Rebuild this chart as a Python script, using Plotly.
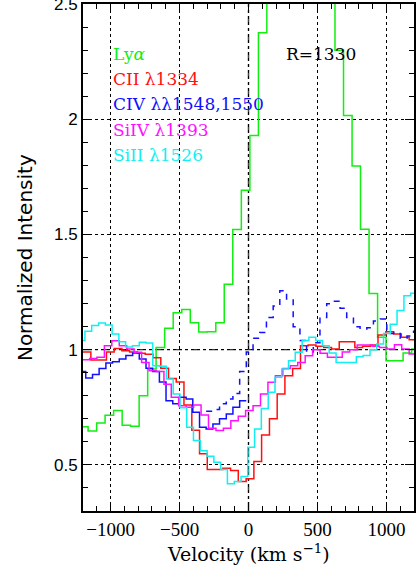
import plotly.graph_objects as go

# ---------------- data (bin edges in km/s, normalized intensity per bin) ----------------
LYA_EDGES = [-1225, -1163, -1101, -1040, -978, -916, -855, -793, -731, -670, -608, -546, -484, -422,
             -361, -299, -237, -176, -114, -52, 10, 72, 133, 195, 257, 318, 380, 442, 504, 565, 627,
             689, 751, 812, 874, 936, 997, 1059, 1121, 1183, 1244]
LYA_FLUX = [0.666, 0.647, 0.682, 0.716, 0.736, 0.672, 0.668, 0.80, 0.916, 1.01, 1.093, 1.16, 1.175,
            1.117, 1.077, 1.078, 1.117, 1.284, 1.522, 1.692, 1.93, 2.376, 2.75, 3.0, 3.2, 3.3, 3.25,
            3.1, 2.9, 2.6, 2.30, 2.017, 1.797, 1.523, 1.244, 1.054, 0.952, 0.952, 0.986, 1.003]

CII_EDGES = [-1255, -1199, -1143, -1087, -1030, -974, -918, -862, -805, -749, -692, -636, -580, -524,
             -468, -411, -355, -299, -242, -186, -130, -74, -17, 39, 95, 152, 208, 264, 320, 377, 433,
             489, 545, 602, 658, 714, 771, 827, 883, 939, 996, 1052, 1108, 1165, 1221]
CII_FLUX = [0.99, 0.99, 0.955, 0.955, 0.99, 1.005, 0.995, 0.99, 0.985, 0.98, 0.965, 0.92, 0.875, 0.86,
            0.76, 0.65, 0.548, 0.48, 0.48, 0.486, 0.476, 0.428, 0.44, 0.515, 0.63, 0.70, 0.808, 0.887,
            0.919, 1.017, 1.02, 1.015, 1.01, 1.003, 1.035, 1.035, 1.01, 1.015, 1.02, 1.064, 1.078,
            1.068, 1.054, 1.043]

CIV_EDGES = [-1228, -1180, -1131, -1083, -1034, -986, -937, -889, -840, -792, -743, -695, -646, -598,
             -549, -501, -452, -404, -355, -307, -258, -210, -161, -113, -64, -16]
CIV_FLUX = [0.905, 0.877, 0.892, 0.919, 0.942, 0.948, 0.96, 0.975, 0.986, 0.96, 0.92, 0.905, 0.86,
            0.779, 0.765, 0.794, 0.786, 0.729, 0.664, 0.656, 0.678, 0.70, 0.721, 0.75, 0.779]

CIV2_EDGES = [-307, -258, -210, -161, -113, -64, -16, 33, 82, 130, 179, 227, 276, 324, 373, 421, 470,
              518, 567, 615, 664, 712, 761, 809, 858, 906, 955, 1003, 1052, 1100, 1149, 1197, 1246]
CIV2_FLUX = [0.733, 0.74, 0.765, 0.786, 0.81, 0.905, 0.99, 1.05, 1.075, 1.14, 1.19, 1.256, 1.22, 1.10,
             1.04, 0.99, 1.03, 1.14, 1.20, 1.21, 1.18, 1.14, 1.10, 1.09, 1.095, 1.125, 1.133, 1.07,
             1.075, 1.05, 1.06, 1.08]

SIIV_EDGES = [-1206, -1152, -1099, -1045, -991, -937, -883, -829, -775, -721, -667, -613, -560, -506,
              -452, -398, -344, -290, -236, -182, -128, -74, -21, 33, 87, 141, 195, 249, 303, 357, 411,
              465, 519, 572, 626, 680, 734, 788, 842, 896, 950, 1004, 1058, 1111, 1165, 1219]
SIIV_FLUX = [0.957, 0.962, 0.967, 1.017, 1.039, 1.017, 1.003, 0.989, 0.945, 0.909, 0.905, 0.85, 0.794,
             0.757, 0.75, 0.76, 0.717, 0.659, 0.649, 0.659, 0.692, 0.711, 0.736, 0.757, 0.808, 0.859,
             0.887, 0.919, 0.93, 0.945, 0.974, 1.0, 0.985, 0.967, 0.967, 0.99, 1.0, 1.02, 1.02, 1.015,
             1.01, 1.003, 1.022, 1.003, 0.981]

SIII_EDGES = [-1235, -1186, -1137, -1087, -1038, -989, -940, -891, -841, -792, -743, -694, -645, -595,
              -546, -497, -448, -399, -349, -300, -251, -202, -153, -103, -54, -5, 44, 93, 143, 192,
              241, 290, 339, 389, 438, 487, 536, 585, 635, 684, 733, 782, 831, 881, 930, 979, 1028,
              1077, 1127, 1176, 1225]
SIII_FLUX = [1.04, 1.08, 1.105, 1.116, 1.107, 1.068, 1.035, 1.012, 1.017, 1.032, 1.029, 0.93, 0.928,
             0.873, 0.808, 0.748, 0.664, 0.606, 0.562, 0.538, 0.512, 0.48, 0.418, 0.428, 0.45, 0.577,
             0.656, 0.745, 0.815, 0.88, 0.916, 0.952, 0.989, 1.04, 1.054, 1.04, 1.017, 0.986, 0.945,
             0.945, 0.945, 0.97, 0.975, 1.0, 1.025, 1.07, 1.11, 1.17, 1.234, 1.245]

LABELS = ["Ly<i>α</i>", "CII λ1334", "CIV λλ1548,1550", "SiIV λ1393", "SiII λ1526"]
X_TICKS = [-1000, -500, 0, 500, 1000]
Y_TICKS = [0.5, 1, 1.5, 2, 2.5]
Y_TICKTEXT = ["0.5", "1", "1.5", "2", "2.5"]

GREEN, RED, BLUE, MAGENTA, CYAN = "#11ee11", "#ff1010", "#1010ff", "#ff10ff", "#10f0f0"

fig = go.Figure()

def add_step(edges, flux, color, dash="solid"):
    fig.add_trace(go.Scatter(
        x=edges, y=list(flux) + [flux[-1]], mode="lines",
        line=dict(color=color, width=1.5, shape="hv", dash=dash),
        hoverinfo="skip", showlegend=False))

add_step(LYA_EDGES, LYA_FLUX, GREEN)
add_step(CII_EDGES, CII_FLUX, RED)
add_step(CIV_EDGES, CIV_FLUX, BLUE)
add_step(CIV2_EDGES, CIV2_FLUX, BLUE, dash="6px,6px")
add_step(SIIV_EDGES, SIIV_FLUX, MAGENTA)
add_step(SIII_EDGES, SIII_FLUX, CYAN)

# reference lines
fig.add_shape(type="line", xref="paper", x0=0, x1=1, yref="y", y0=1, y1=1,
              line=dict(color="black", width=1, dash="dashdot"), layer="below")
fig.add_shape(type="line", xref="x", x0=0, x1=0, yref="paper", y0=0, y1=1,
              line=dict(color="#444444", width=1.5, dash="dashdot"), layer="below")

# legend text
leg_colors = [GREEN, RED, BLUE, MAGENTA, CYAN]
leg_y = [2.282, 2.173, 2.065, 1.952, 1.844]
for txt, col, yy in zip(LABELS, leg_colors, leg_y):
    fig.add_annotation(x=-1000, y=yy, xref="x", yref="y", text=txt, showarrow=False,
                       xanchor="left", yanchor="middle",
                       font=dict(family="DejaVu Serif", size=17, color=col))
fig.add_annotation(x=254, y=2.282, xref="x", yref="y", text="R=1330", showarrow=False,
                   xanchor="left", yanchor="middle",
                   font=dict(family="DejaVu Serif", size=17, color="black"))

# axis titles
fig.add_annotation(x=0.5, y=-0.083, xref="paper", yref="paper", text="Velocity (km s<sup>−1</sup>)",
                   showarrow=False, xanchor="center", yanchor="middle",
                   font=dict(family="DejaVu Serif", size=19, color="black"))
fig.add_annotation(x=-0.175, y=0.499, xref="paper", yref="paper", text="Normalized Intensity",
                   showarrow=False, xanchor="center", yanchor="middle", textangle=-90,
                   font=dict(family="DejaVu Sans", size=20, color="black"))

axis_common = dict(ticks="inside", ticklen=9, tickwidth=1, tickcolor="black",
                   showline=True, linecolor="black", linewidth=2, mirror="allticks",
                   showgrid=True, gridcolor="black", griddash="dot", gridwidth=1,
                   zeroline=False, automargin=False, ticklabeloverflow="allow")

fig.update_layout(
    width=417, height=569,
    margin=dict(l=83, r=3, t=4, b=58),
    paper_bgcolor="white", plot_bgcolor="white",
    xaxis=dict(range=[-1200, 1200], tickvals=X_TICKS,
               tickfont=dict(family="Liberation Serif", size=19, color="black"),
               minor=dict(dtick=100, tick0=0, ticklen=5, ticks="inside", tickcolor="black",
                          showgrid=False),
               **axis_common),
    yaxis=dict(range=[0.3, 2.5005], tickvals=Y_TICKS, ticktext=Y_TICKTEXT,
               tickfont=dict(family="Liberation Sans", size=17, color="black"),
               minor=dict(dtick=0.1, tick0=0, ticklen=5, ticks="inside", tickcolor="black",
                          showgrid=False),
               **axis_common),
)

fig.write_html("out.html", config={"displayModeBar": False},
               post_script="document.body.style.margin='0px';")
